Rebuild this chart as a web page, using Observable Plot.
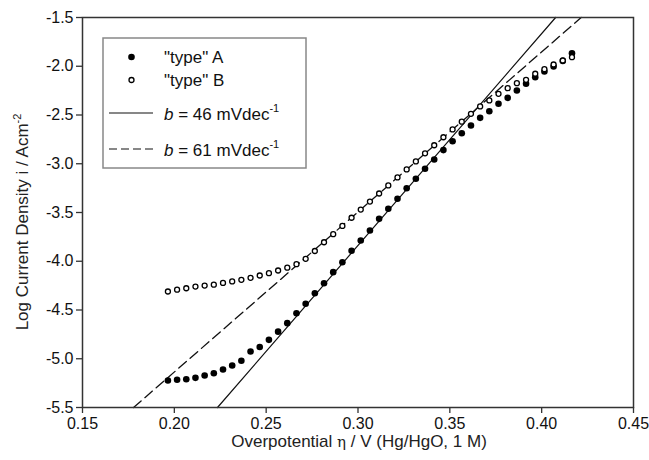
<!DOCTYPE html>
<html>
<head>
<meta charset="utf-8">
<script src="https://cdn.jsdelivr.net/npm/d3@7"></script>
<script src="https://cdn.jsdelivr.net/npm/@observablehq/plot@0.6"></script>
<style>
  html, body { margin: 0; padding: 0; background: #fff; }
  #wrap { position: relative; width: 649px; height: 460px; font-family: "Liberation Sans", Arial, sans-serif; }
</style>
</head>
<body>
<div id="wrap"></div>
<script>
// Overpotential (V)
const overpotential = [0.1965, 0.2015, 0.2065, 0.2115, 0.2165, 0.2215, 0.2265, 0.2315, 0.2365, 0.2415,
  0.2465, 0.2515, 0.2565, 0.2615, 0.2665, 0.2715, 0.2765, 0.2815, 0.2865, 0.2915,
  0.2965, 0.3015, 0.3065, 0.3115, 0.3165, 0.3215, 0.3265, 0.3315, 0.3365, 0.3415,
  0.3465, 0.3515, 0.3565, 0.3615, 0.3665, 0.3715, 0.3765, 0.3815, 0.3865, 0.3915,
  0.3965, 0.4015, 0.4065, 0.4115, 0.4165];
// Log current density, "type" A (filled)
const logiA = [-5.223, -5.216, -5.210, -5.196, -5.172, -5.148, -5.110, -5.069, -5.020, -4.925,
  -4.880, -4.806, -4.722, -4.635, -4.533, -4.436, -4.328, -4.225, -4.112, -4.010,
  -3.893, -3.787, -3.685, -3.565, -3.462, -3.359, -3.251, -3.154, -3.052, -2.956,
  -2.860, -2.769, -2.687, -2.608, -2.529, -2.461, -2.385, -2.324, -2.249, -2.180,
  -2.112, -2.054, -2.003, -1.945, -1.866];
// Log current density, "type" B (open)
const logiB = [-4.310, -4.292, -4.277, -4.260, -4.249, -4.240, -4.222, -4.207, -4.190, -4.170,
  -4.146, -4.122, -4.095, -4.066, -4.030, -3.975, -3.895, -3.805, -3.722, -3.638,
  -3.554, -3.470, -3.388, -3.305, -3.222, -3.140, -3.058, -2.976, -2.893, -2.810,
  -2.728, -2.648, -2.568, -2.488, -2.412, -2.351, -2.283, -2.225, -2.174, -2.139,
  -2.077, -2.030, -1.982, -1.941, -1.907];
// Tafel fit lines (end points)
const tafel46X = [0.2235, 0.4076];
const tafel46Y = [-5.5, -1.5];
const tafel61X = [0.1778, 0.4215];
const tafel61Y = [-5.5, -1.5];
// Axis ticks
const xTicks = [0.15, 0.20, 0.25, 0.30, 0.35, 0.40, 0.45];
const yTicks = [-5.5, -5.0, -4.5, -4.0, -3.5, -3.0, -2.5, -2.0, -1.5];

const dataA = overpotential.map((x, i) => ({x, y: logiA[i]}));
const dataB = overpotential.map((x, i) => ({x, y: logiB[i]}));
const line46 = tafel46X.map((x, i) => ({x, y: tafel46Y[i]}));
const line61 = tafel61X.map((x, i) => ({x, y: tafel61Y[i]}));

const FONT = "'Liberation Sans', Arial, sans-serif";
const ML = 82, MR = 16, MT = 17, MB = 53, W = 649, H = 460;

const chart = Plot.plot({
  width: W, height: H,
  marginLeft: ML, marginRight: MR, marginTop: MT, marginBottom: MB,
  style: {fontFamily: FONT, fontSize: "16px", color: "#111", background: "#fff"},
  x: {domain: [0.15, 0.45], label: null},
  y: {domain: [-5.5, -1.5], label: null},
  marks: [
    Plot.line(line61, {x: "x", y: "y", stroke: "#111", strokeWidth: 1.3, strokeDasharray: "10,5"}),
    Plot.line(line46, {x: "x", y: "y", stroke: "#111", strokeWidth: 1.2}),
    Plot.dot(dataA, {x: "x", y: "y", r: 3.3, fill: "#000", stroke: "none"}),
    Plot.dot(dataB, {x: "x", y: "y", r: 2.5, fill: "#fff", stroke: "#000", strokeWidth: 1.3}),
    Plot.frame({stroke: "#333", strokeWidth: 1.5}),
    Plot.axisX({ticks: xTicks, tickFormat: d => d.toFixed(2), tickSize: 6, tickPadding: 4, fontSize: 16, stroke: "#333", strokeWidth: 1.3}),
    Plot.axisY({ticks: yTicks, tickFormat: d => d.toFixed(1), tickSize: 6, tickPadding: 3, fontSize: 16, stroke: "#333", strokeWidth: 1.3})
  ]
});

document.getElementById("wrap").appendChild(chart);

const svg = d3.select(chart);
// X axis title
const xt = svg.append("text")
  .attr("x", 359).attr("y", 447)
  .attr("text-anchor", "middle")
  .attr("font-family", FONT).attr("font-size", 17).attr("fill", "#222");
xt.append("tspan").text("Overpotential ");
xt.append("tspan").attr("font-family", "'DejaVu Serif', serif").attr("font-size", 15).text("η");
xt.append("tspan").text(" / V (Hg/HgO, 1 M)");

// Y axis title
const yt = svg.append("text")
  .attr("transform", "translate(28,222) rotate(-90)")
  .attr("text-anchor", "middle")
  .attr("font-family", FONT).attr("font-size", 17).attr("fill", "#222");
yt.append("tspan").text("Log Current Density i / Acm");
yt.append("tspan").attr("font-size", 11).attr("dy", -7).text("-2");

// Legend
const lg = svg.append("g").attr("font-family", FONT).attr("font-size", 17).attr("fill", "#111").attr("text-anchor", "start");
lg.append("rect").attr("x", 103).attr("y", 38).attr("width", 203).attr("height", 130)
  .attr("fill", "#fff").attr("stroke", "#888").attr("stroke-width", 1.5);
lg.append("circle").attr("cx", 131.5).attr("cy", 57).attr("r", 3.3).attr("fill", "#000");
lg.append("text").attr("x", 164).attr("y", 63).text("\"type\" A");
lg.append("circle").attr("cx", 131.5).attr("cy", 80).attr("r", 2.5).attr("fill", "#fff").attr("stroke", "#000").attr("stroke-width", 1.3);
lg.append("text").attr("x", 164).attr("y", 86).text("\"type\" B");
lg.append("line").attr("x1", 109).attr("x2", 153).attr("y1", 113).attr("y2", 113).attr("stroke", "#111").attr("stroke-width", 1.2);
const t3 = lg.append("text").attr("x", 164).attr("y", 120);
t3.append("tspan").attr("font-style", "italic").text("b");
t3.append("tspan").text(" = 46 mVdec");
t3.append("tspan").attr("font-size", 11).attr("dy", -8).text("-1");
lg.append("line").attr("x1", 109).attr("x2", 153).attr("y1", 149).attr("y2", 149).attr("stroke", "#111").attr("stroke-width", 1.2).attr("stroke-dasharray", "8,4");
const t4 = lg.append("text").attr("x", 164).attr("y", 156);
t4.append("tspan").attr("font-style", "italic").text("b");
t4.append("tspan").text(" = 61 mVdec");
t4.append("tspan").attr("font-size", 11).attr("dy", -8).text("-1");
</script>
</body>
</html>
